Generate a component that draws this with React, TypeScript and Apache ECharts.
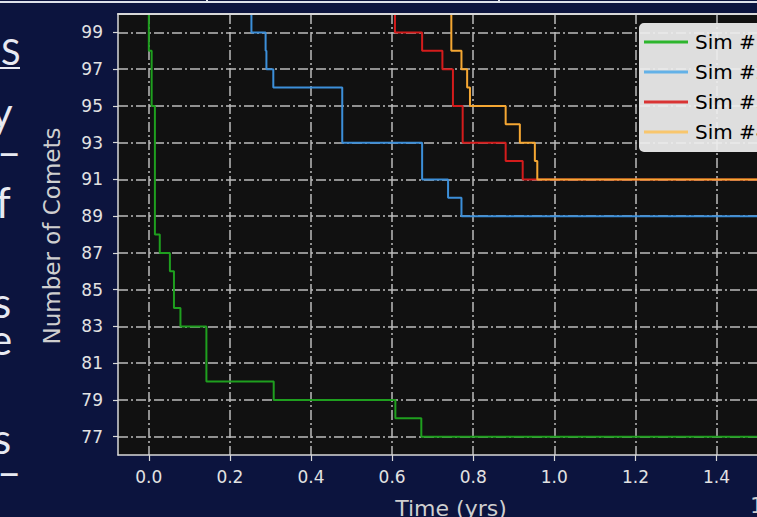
import React, { useEffect, useRef } from 'react';
import * as echarts from 'echarts';

// Comet survival counts for four simulations (steps-post: count holds from each time onward)
const simNames = ['Sim #1', 'Sim #2', 'Sim #3', 'Sim #4'];

const sim1Times = [0, 0, 0.007, 0.015, 0.027, 0.052, 0.062, 0.078, 0.142, 0.308, 0.608, 0.672, 1.52];
const sim1Counts = [100, 98, 95, 88, 87, 86, 84, 83, 80, 79, 78, 77, 77];

const sim2Times = [0, 0.253, 0.288, 0.29, 0.307, 0.477, 0.674, 0.738, 0.771, 1.52];
const sim2Counts = [100, 99, 98, 97, 96, 93, 91, 90, 89, 89];

const sim3Times = [0, 0.607, 0.674, 0.724, 0.75, 0.774, 0.88, 0.922, 1.52];
const sim3Counts = [100, 99, 98, 97, 95, 93, 92, 91, 91];

const sim4Times = [0, 0.746, 0.771, 0.785, 0.792, 0.88, 0.915, 0.952, 0.958, 1.52];
const sim4Counts = [100, 98, 97, 96, 95, 94, 93, 92, 91, 91];

const xTicks = [0, 0.2, 0.4, 0.6, 0.8, 1.0, 1.2, 1.4];
const yTicks = [77, 79, 81, 83, 85, 87, 89, 91, 93, 95, 97, 99];

const X_MIN = -0.076;
const X_MAX = 1.596;
const Y_MIN = 76;
const Y_MAX = 100;

const lineColors = ['#1f9f1f', '#3c8fd9', '#d41c1c', '#f5a733'];
const legendColors = ['#2db52d', '#63b1e7', '#d93333', '#f8c66d'];

const NAVY = '#0c143e';
const FRAME = '#d8d8d8';
const AXIS_FONT = 'DejaVu Sans';

// The chart canvas is wider than the window; the plot's right part runs past the visible edge
const CANVAS_W = 800;
const CANVAS_H = 517;

// Edge letters of the neighbouring slide text column
const sideLetters = [
  { ch: 'S', x: 1, y: 51, size: 36 },
  { ch: 'y', x: -9, y: 112, size: 42 },
  { ch: '–', x: -3, y: 151, size: 42 },
  { ch: 'f', x: -4, y: 202, size: 42 },
  { ch: 's', x: -7, y: 302, size: 42 },
  { ch: 'e', x: -10, y: 339, size: 42 },
  { ch: 's', x: -7, y: 438, size: 42 },
  { ch: '–', x: -3, y: 471, size: 42 },
];

const seriesTimes = [sim1Times, sim2Times, sim3Times, sim4Times];
const seriesCounts = [sim1Counts, sim2Counts, sim3Counts, sim4Counts];

export default function App() {
  const ref = useRef<HTMLDivElement>(null);

  useEffect(() => {
    document.body.style.margin = '0';
    document.body.style.background = NAVY;
    document.documentElement.style.overflow = 'hidden';
    const chart = echarts.init(ref.current!, null, { renderer: 'svg' });

    const series = simNames.map((name, i) => ({
      name,
      type: 'line',
      step: 'end',
      symbol: 'none',
      showSymbol: false,
      clip: true,
      xAxisIndex: 0,
      yAxisIndex: 0,
      data: seriesTimes[i].map((t, k) => [t, seriesCounts[i][k]]),
      lineStyle: { color: lineColors[i], width: 2 },
      itemStyle: { color: lineColors[i] },
      emphasis: { disabled: true },
    }));

    const graphic: any[] = [
      { type: 'rect', shape: { x: 0, y: 1, width: CANVAS_W, height: 2 }, style: { fill: '#dfe2ea' } },
      { type: 'rect', shape: { x: 206, y: 0, width: 2, height: 3 }, style: { fill: '#dfe2ea' } },
      { type: 'rect', shape: { x: 498, y: 0, width: 2, height: 3 }, style: { fill: '#dfe2ea' } },
      { type: 'rect', shape: { x: 0, y: 67, width: 20, height: 2 }, style: { fill: '#e8eaf2' } },
      ...sideLetters.map((l) => ({
        type: 'text',
        x: l.x,
        y: l.y,
        style: {
          text: l.ch,
          fill: '#e8eaf2',
          fontSize: l.size,
          lineHeight: 28,
          fontFamily: 'Lato',
          textAlign: 'left',
          textVerticalAlign: 'middle',
        },
      })),
      {
        type: 'text',
        x: 52,
        y: 236,
        rotation: Math.PI / 2,
        style: {
          text: 'Number of Comets',
          fill: '#cfcfcf',
          fontSize: 23,
          fontFamily: AXIS_FONT,
          textAlign: 'center',
          textVerticalAlign: 'middle',
        },
      },
      {
        type: 'text',
        x: 451,
        y: 508,
        style: {
          text: 'Time (yrs)',
          fill: '#cfcfcf',
          fontSize: 22,
          fontFamily: AXIS_FONT,
          textAlign: 'center',
          textVerticalAlign: 'middle',
        },
      },
      {
        type: 'text',
        x: 750,
        y: 505,
        style: {
          text: '1',
          fill: '#cfcfcf',
          fontSize: 22,
          fontFamily: AXIS_FONT,
          textAlign: 'left',
          textVerticalAlign: 'middle',
        },
      },
    ];

    chart.setOption({
      animation: false,
      backgroundColor: NAVY,
      grid: {
        show: true,
        left: 118,
        top: 14,
        right: CANVAS_W - 796,
        bottom: CANVAS_H - 455,
        backgroundColor: '#111111',
        borderWidth: 0,
        containLabel: false,
      },
      legend: {
        show: true,
        orient: 'vertical',
        left: 639,
        top: 23,
        padding: [9, 24, 10, 5],
        itemWidth: 44,
        itemHeight: 3,
        itemGap: 10,
        icon: 'rect',
        backgroundColor: 'rgba(238,238,238,0.93)',
        borderRadius: 5,
        borderWidth: 0,
        selectedMode: false,
        textStyle: { color: '#000000', fontSize: 20, fontFamily: AXIS_FONT, padding: [0, 0, 0, 2] },
        data: simNames.map((n, i) => ({
          name: n,
          itemStyle: { color: legendColors[i], borderWidth: 0 },
        })),
      },
      xAxis: [
        {
          type: 'value',
          min: X_MIN,
          max: X_MAX,
          position: 'bottom',
          axisLine: { show: true, onZero: false, lineStyle: { color: FRAME, width: 1.5 } },
          axisTick: {
            show: true,
            length: 6,
            customValues: xTicks,
            lineStyle: { color: FRAME, width: 1.2 },
          },
          axisLabel: {
            show: true,
            customValues: xTicks,
            formatter: (v: number) => v.toFixed(1),
            color: '#e2e2e2',
            fontSize: 17,
            fontFamily: AXIS_FONT,
            margin: 13,
          },
          splitLine: {
            show: true,
            lineStyle: { color: '#bcbcbc', width: 1.5, type: [10, 3, 2, 3] },
          },
        },
        {
          type: 'value',
          min: X_MIN,
          max: X_MAX,
          position: 'top',
          z: 10,
          axisLine: { show: true, onZero: false, lineStyle: { color: FRAME, width: 2 } },
          axisTick: { show: false },
          axisLabel: { show: false },
          splitLine: { show: false },
        },
      ],
      yAxis: {
        type: 'value',
        min: Y_MIN,
        max: Y_MAX,
        axisLine: { show: true, onZero: false, lineStyle: { color: FRAME, width: 1.5 } },
        axisTick: {
          show: true,
          length: 5,
          customValues: yTicks,
          lineStyle: { color: FRAME, width: 1.2 },
        },
        axisLabel: {
          show: true,
          customValues: yTicks,
          color: '#e2e2e2',
          fontSize: 17,
          fontFamily: AXIS_FONT,
          margin: 15,
        },
        splitLine: {
          show: true,
          lineStyle: { color: '#bcbcbc', width: 1.5, type: [10, 3, 2, 3] },
        },
      },
      graphic,
      series,
    });

    return () => chart.dispose();
  }, []);

  return (
    <div
      ref={ref}
      style={{ position: 'fixed', left: 0, top: 0, width: CANVAS_W, height: CANVAS_H, background: NAVY }}
    />
  );
}
